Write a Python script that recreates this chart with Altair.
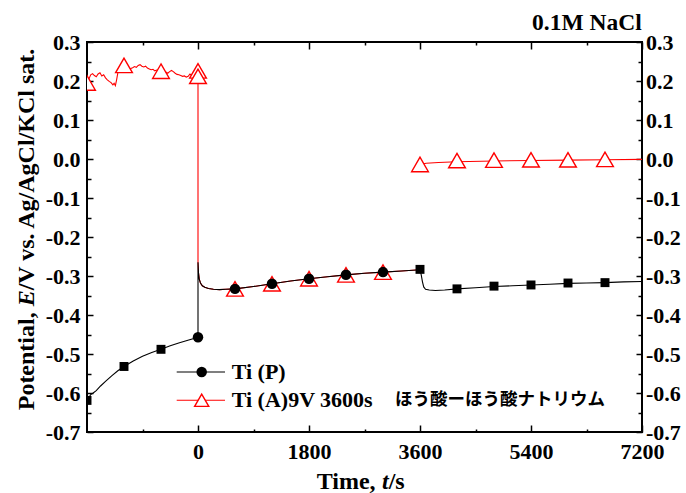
import altair as alt
import pandas as pd

# ---------------- data ----------------
# Ti (P): black curve
p_pre_t = [-1800, -1770, -1740, -1700, -1650, -1580, -1500, -1400, -1300, -1200,
           -1050, -900, -750, -600, -450, -300, -150, 0]
p_pre_v = [-0.620, -0.612, -0.604, -0.600, -0.594, -0.582, -0.570, -0.556, -0.543, -0.532,
           -0.518, -0.506, -0.496, -0.488, -0.479, -0.471, -0.464, -0.457]
# common decay after immersion change (both specimens)
mid_t = [0, 8, 20, 40, 70, 110, 170, 250, 350, 450, 600, 900, 1200, 1500, 1800,
         2100, 2400, 2700, 3000, 3300, 3600]
mid_v = [-0.265, -0.292, -0.308, -0.318, -0.325, -0.329, -0.332, -0.334, -0.335, -0.334,
         -0.333, -0.327, -0.320, -0.313, -0.307, -0.302, -0.297, -0.293, -0.290, -0.287, -0.284]
p_post_t = [3620, 3640, 3660, 3690, 3750, 3850, 4000, 4200, 4500, 4800, 5100, 5400,
            5700, 6000, 6300, 6600, 6900, 7200]
p_post_v = [-0.297, -0.315, -0.328, -0.334, -0.336, -0.337, -0.336, -0.333, -0.330, -0.327,
            -0.325, -0.323, -0.321, -0.319, -0.318, -0.317, -0.315, -0.314]

# Ti (A): red curve
a_pre_t = [-1800, -1770, -1740, -1710, -1680, -1650, -1620, -1590, -1560, -1530, -1500,
           -1470, -1440, -1410, -1380, -1360, -1340, -1320, -1300, -1270, -1240, -1210,
           -1180, -1150, -1120, -1090, -1060, -1030, -1000, -970, -940, -910, -880, -850,
           -820, -790, -760, -730, -700, -670, -640, -610, -580, -550, -520, -490, -460,
           -430, -400, -370, -340, -310, -280, -250, -220, -190, -160, -130, -100, -70,
           -40, -10, 0]
a_pre_v = [0.210, 0.205, 0.216, 0.219, 0.214, 0.211, 0.218, 0.221, 0.213, 0.216, 0.208,
           0.203, 0.199, 0.196, 0.190, 0.194, 0.188, 0.203, 0.221, 0.224, 0.226, 0.224,
           0.228, 0.226, 0.230, 0.232, 0.234, 0.237, 0.235, 0.240, 0.242, 0.238, 0.236,
           0.238, 0.233, 0.231, 0.229, 0.230, 0.226, 0.228, 0.225, 0.226, 0.224, 0.222,
           0.223, 0.220, 0.224, 0.227, 0.224, 0.220, 0.217, 0.216, 0.214, 0.212, 0.213,
           0.210, 0.212, 0.218, 0.214, 0.209, 0.211, 0.208, 0.209]
a_post_t = [3600, 3700, 3900, 4200, 4800, 5400, 6000, 6600, 7200]
a_post_v = [-0.014, -0.011, -0.009, -0.007, -0.005, -0.004, -0.003, -0.002, -0.001]

# markers
sq_t = [-1800, -1200, -600, 3600, 4200, 4800, 5400, 6000, 6600]
sq_v = [-0.619, -0.532, -0.488, -0.283, -0.333, -0.326, -0.323, -0.318, -0.317]
ci_t = [0, 600, 1200, 1800, 2400, 3000]
ci_v = [-0.457, -0.333, -0.320, -0.307, -0.297, -0.290]
tr_t = [-1800, -1200, -600, 0, 0, 600, 1200, 1800, 2400, 3000,
        3600, 4200, 4800, 5400, 6000, 6600]
tr_v = [0.195, 0.240, 0.225, 0.226, 0.212, -0.333, -0.320, -0.307, -0.297, -0.290,
        -0.014, -0.004, -0.003, -0.002, -0.002, -0.001]

x_major = [0, 1800, 3600, 5400, 7200]
x_minor = [-900, 900, 2700, 4500, 6300]
y_major = [-0.7, -0.6, -0.5, -0.4, -0.3, -0.2, -0.1, 0.0, 0.1, 0.2, 0.3]
y_minor = [-0.65, -0.55, -0.45, -0.35, -0.25, -0.15, -0.05, 0.05, 0.15, 0.25]

legend_names = ["Ti (P)", "Ti (A)9V 3600s"]
legend_jp = "ほう酸ーほう酸ナトリウム"
note = "0.1M NaCl"

# ---------------- tables ----------------
black_t = p_pre_t + mid_t + p_post_t
black_v = p_pre_v + mid_v + p_post_v
black = pd.DataFrame({"t": black_t, "v": black_v, "i": range(len(black_t))})

red_t = a_pre_t + mid_t + a_post_t
red_v = a_pre_v + mid_v + a_post_v
red_seg = [1] * (len(a_pre_t) + len(mid_t)) + [2] * len(a_post_t)
red = pd.DataFrame({"t": red_t, "v": red_v, "i": range(len(red_t)), "seg": red_seg})

squares = pd.DataFrame({"t": sq_t, "v": sq_v})
circles = pd.DataFrame({"t": ci_t, "v": ci_v})
triangles = pd.DataFrame({"t": tr_t, "v": tr_v})
one = pd.DataFrame({"a": [0]})

SERIF = "Liberation Serif"
xs = alt.Scale(domain=[-1800, 7200], nice=False, zero=False)
ys = alt.Scale(domain=[-0.7, 0.3], nice=False, zero=False)

Y_EXPR = "datum.value < 0 ? '-' + format(-datum.value, '.1f') : format(datum.value, '.1f')"
X_EXPR = "datum.value < 0 ? '' : format(datum.value, 'd')"


def mk_axis(orient, values, size, labels, pad=7, expr=None):
    kw = dict(orient=orient, values=values, tickSize=size, offset=-size, labels=labels,
              domain=False, grid=False, title=None, ticks=True, tickColor="black",
              tickWidth=1.5, labelFont=SERIF, labelFontWeight="bold", labelFontSize=22,
              labelColor="black", labelPadding=pad, labelFlush=False, labelOverlap=False)
    if expr is not None:
        kw["labelExpr"] = expr
    return alt.Axis(**kw)


def X(axis=None):
    return alt.X("t:Q", scale=xs, axis=axis)


def Y(axis=None):
    return alt.Y("v:Q", scale=ys, axis=axis)


# axis carrier layers (invisible)
ax1 = alt.Chart(squares).mark_point(opacity=0).encode(
    x=X(mk_axis("bottom", x_major, 7, True, 9, X_EXPR)),
    y=Y(mk_axis("left", y_major, 6, True, 7, Y_EXPR)))
ax2 = alt.Chart(squares).mark_point(opacity=0).encode(
    x=X(mk_axis("bottom", x_minor, 3, False)),
    y=Y(mk_axis("left", y_minor, 4, False)))
ax3 = alt.Chart(squares).mark_point(opacity=0).encode(
    x=X(mk_axis("top", x_major, 7, False)),
    y=Y(mk_axis("right", y_major, 6, True, 3.5, Y_EXPR)))
ax4 = alt.Chart(squares).mark_point(opacity=0).encode(
    x=X(mk_axis("top", x_minor, 3, False)),
    y=Y(mk_axis("right", y_minor, 4, False)))

red_line = alt.Chart(red).mark_line(color="#ff0000", strokeWidth=1.1, clip=True).encode(
    x=X(), y=Y(), detail="seg:N", order="i:Q")
red_tri = alt.Chart(triangles).mark_point(
    shape="triangle-up", size=280, filled=True, fill="white", stroke="#ff0000",
    strokeWidth=1.4, opacity=1, clip=True).encode(x=X(), y=Y())
black_line = alt.Chart(black).mark_line(color="black", strokeWidth=1.1, clip=True).encode(
    x=X(), y=Y(), order="i:Q")
black_sq = alt.Chart(squares).mark_point(
    shape="square", size=80, filled=True, color="black", opacity=1, clip=True).encode(
    x=X(), y=Y())
black_ci = alt.Chart(circles).mark_point(
    shape="circle", size=110, filled=True, color="black", opacity=1, clip=True).encode(
    x=X(), y=Y())

# legend (inside plot, lower middle)
LX0, LX1, LXM, LTX = 89.7, 138, 114.7, 144.7
R1, R2 = 330, 358.3
leg = [
    alt.Chart(one).mark_rule(color="black", strokeWidth=1.1).encode(
        x=alt.value(LX0), x2=alt.value(LX1), y=alt.value(R1)),
    alt.Chart(one).mark_point(shape="circle", size=110, filled=True, color="black",
                              opacity=1).encode(x=alt.value(LXM), y=alt.value(R1)),
    alt.Chart(one).mark_rule(color="#ff0000", strokeWidth=1.1).encode(
        x=alt.value(LX0), x2=alt.value(LX1), y=alt.value(R2)),
    alt.Chart(one).mark_point(shape="triangle-up", size=200, filled=True, fill="white",
                              stroke="#ff0000", strokeWidth=1.4, opacity=1).encode(
        x=alt.value(LXM), y=alt.value(R2)),
    alt.Chart(one).mark_text(text=legend_names[0], font=SERIF, fontWeight="bold",
                             fontSize=22, align="left", baseline="middle",
                             color="black").encode(x=alt.value(LTX), y=alt.value(R1)),
    alt.Chart(one).mark_text(text=legend_names[1], font=SERIF, fontWeight="bold",
                             fontSize=22, align="left", baseline="middle",
                             color="black").encode(x=alt.value(LTX), y=alt.value(R2)),
    alt.Chart(one).mark_text(text=legend_jp, font="Noto Sans CJK JP", fontWeight="bold",
                             fontSize=17.5, align="left", baseline="middle",
                             color="black").encode(x=alt.value(308), y=alt.value(R2)),
]

# titles composed of pieces (italic symbols)
TF = 24
ytitle = [
    alt.Chart(one).mark_text(text="Potential,", font=SERIF, fontWeight="bold", fontSize=TF,
                             angle=270, align="right", baseline="middle",
                             color="black").encode(x=alt.value(-60), y=alt.value(270.3)),
    alt.Chart(one).mark_text(text="E", font=SERIF, fontWeight="bold", fontStyle="italic",
                             fontSize=TF, angle=270, align="left", baseline="middle",
                             color="black").encode(x=alt.value(-60), y=alt.value(264.3)),
    alt.Chart(one).mark_text(text="/V vs. Ag/AgCl/KCl sat.", font=SERIF, fontWeight="bold",
                             fontSize=TF, angle=270, align="left", baseline="middle",
                             color="black").encode(x=alt.value(-60), y=alt.value(248.3)),
]
XT_Y = 439.5
xtitle = [
    alt.Chart(one).mark_text(text="Time,", font=SERIF, fontWeight="bold", fontSize=TF,
                             align="left", baseline="middle",
                             color="black").encode(x=alt.value(229.7), y=alt.value(XT_Y)),
    alt.Chart(one).mark_text(text="t", font=SERIF, fontWeight="bold", fontStyle="italic",
                             fontSize=TF, align="left", baseline="middle",
                             color="black").encode(x=alt.value(295), y=alt.value(XT_Y)),
    alt.Chart(one).mark_text(text="/s", font=SERIF, fontWeight="bold", fontSize=TF,
                             align="left", baseline="middle",
                             color="black").encode(x=alt.value(301.7), y=alt.value(XT_Y)),
]
note_txt = alt.Chart(one).mark_text(text=note, font=SERIF, fontWeight="bold", fontSize=23.5,
                                    align="right", baseline="middle", color="black").encode(
    x=alt.value(554.7), y=alt.value(-18.7))

chart = alt.layer(
    ax1, ax2, ax3, ax4,
    red_line, red_tri, black_line, black_sq, black_ci,
    *leg, *ytitle, *xtitle, note_txt,
).resolve_axis(x="independent", y="independent").properties(
    width=555, height=390,
    padding={"left": 87, "top": 42, "right": 44, "bottom": 61},
    autosize=alt.AutoSizeParams(type="none"),
    background="white",
).configure_view(stroke="black", strokeWidth=2)

chart.save("out.html", embed_options={"renderer": "svg", "actions": False})
